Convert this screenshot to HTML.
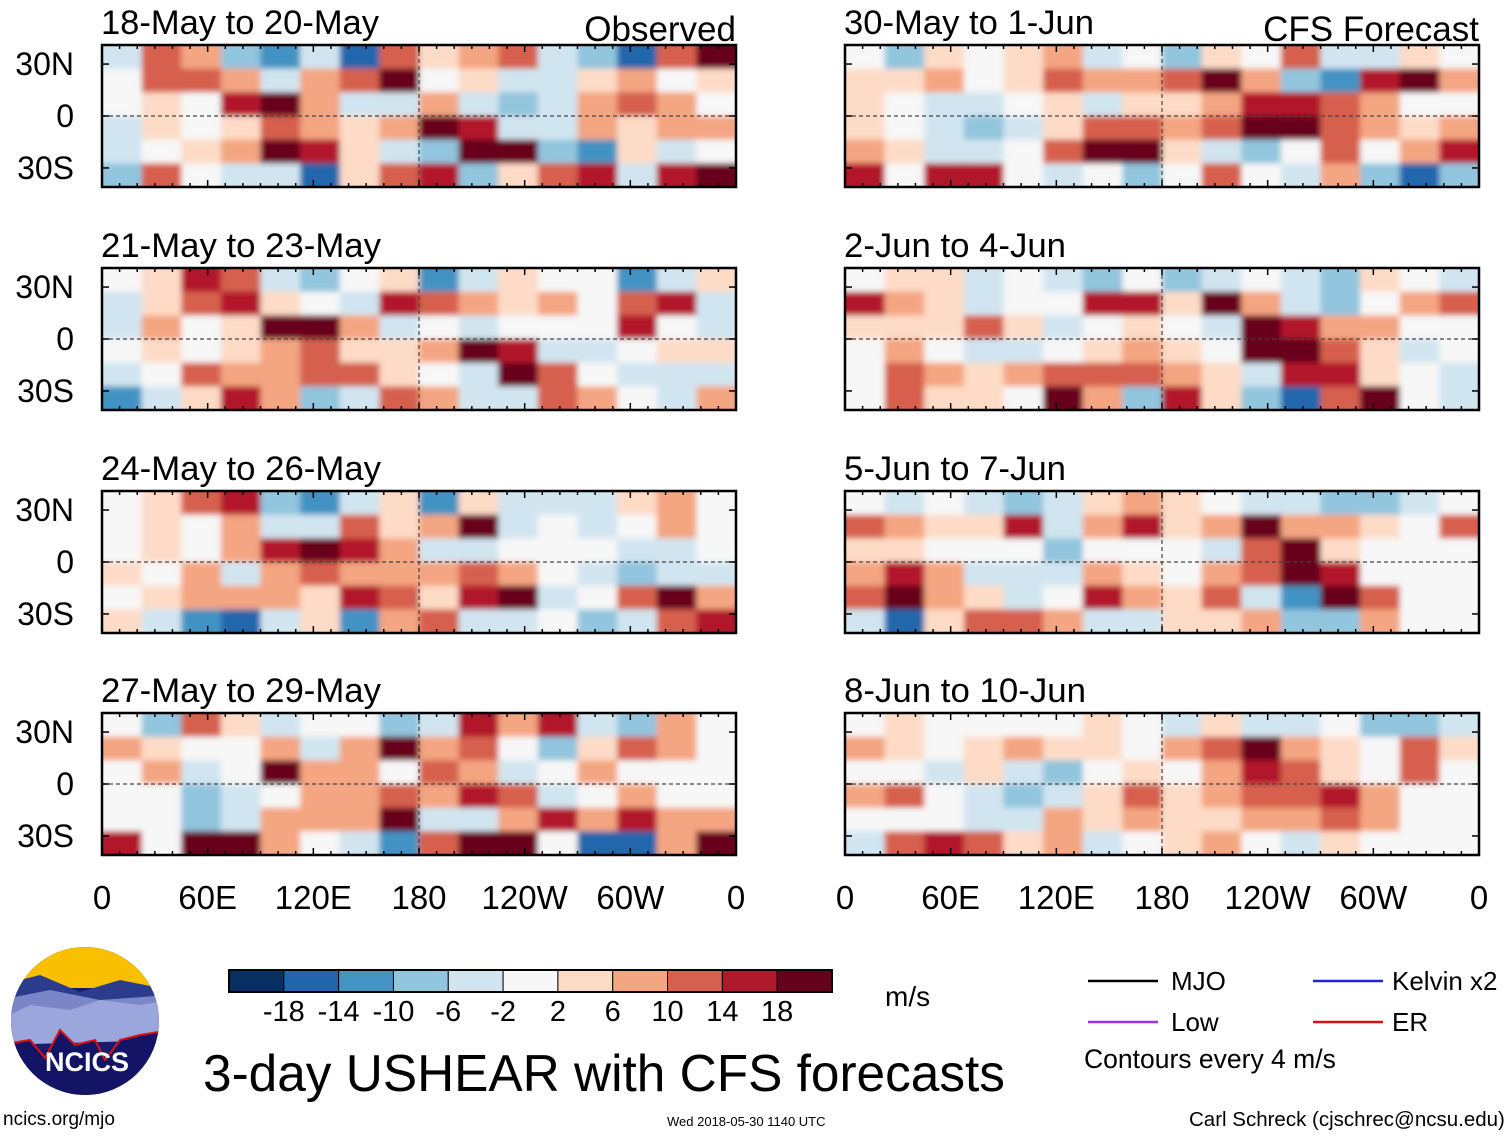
<!DOCTYPE html>
<html><head><meta charset="utf-8">
<style>
html,body{margin:0;padding:0;background:#fff;}
body{width:1510px;height:1137px;position:relative;overflow:hidden;font-family:"Liberation Sans",sans-serif;color:#000;}
.t{position:absolute;white-space:nowrap;line-height:1;}
svg{position:absolute;left:0;top:0;}
</style></head>
<body>
<svg id="chart" width="1510" height="1137">
<defs><filter id="blur" x="-5%" y="-10%" width="110%" height="120%"><feGaussianBlur stdDeviation="3"/></filter></defs>
</svg>

<div class="t" style="left:3px;top:1110px;font-size:19px">ncics.org/mjo</div>
<div class="t" style="left:667px;top:1115px;font-size:13px">Wed 2018-05-30 1140 UTC</div>
<div class="t" style="left:1189px;top:1110px;font-size:20.5px">Carl Schreck (cjschrec@ncsu.edu)</div>
<div class="t" style="left:1171px;top:968px;font-size:26px">MJO</div>
<div class="t" style="left:1392px;top:968px;font-size:26px">Kelvin x2</div>
<div class="t" style="left:1171px;top:1009px;font-size:26px">Low</div>
<div class="t" style="left:1392px;top:1009px;font-size:26px">ER</div>
<div class="t" style="left:1084px;top:1046px;font-size:26.5px">Contours every 4 m/s</div>
<div class="t" style="left:885px;top:983px;font-size:28px">m/s</div>

<script>
// ---------- data ----------
const levels = [-18,-14,-10,-6,-2,2,6,10,14,18];
const colors = ["#053061","#2166ac","#4393c3","#92c5de","#d1e5f0","#f7f7f7","#fddbc7","#f4a582","#d6604d","#b2182b","#67001f"];
const lonTicks = ["0","60E","120E","180","120W","60W","0"];
const latTicks = ["30N","0","30S"];
const obsTitles = ["18-May to 20-May","21-May to 23-May","24-May to 26-May","27-May to 29-May"];
const fcTitles = ["30-May to 1-Jun","2-Jun to 4-Jun","5-Jun to 7-Jun","8-Jun to 10-Jun"];
const obs1 = [
[-4,10,6,-10,-14,-6,-18,10,2,6,10,-6,-10,-18,10,18],
[-2,10,10,6,-6,6,10,18,-2,2,-6,-6,2,6,-2,2],
[-2,2,-2,14,18,6,-6,-4,6,-6,-10,-6,6,10,6,-2],
[-4,2,-2,2,10,6,2,6,18,14,-4,-6,6,2,6,6],
[-4,-2,4,6,18,14,2,-4,-8,18,18,-10,-14,2,-4,-2],
[-10,10,-2,-6,-4,-18,2,10,14,-10,2,10,14,-6,14,18]];
const obs2 = [
[-2,4,14,10,-6,-10,-2,2,-14,-4,2,-2,-2,-14,-4,2],
[-4,2,10,14,4,-2,-4,14,10,6,4,6,-2,10,14,-6],
[-4,6,-2,4,18,20,6,-6,-2,-6,-2,-2,-2,14,-2,-4],
[-2,2,-2,2,6,10,4,2,6,18,14,-6,-4,-2,2,4],
[-4,-2,10,6,6,10,10,4,-2,-6,18,10,-2,-6,-4,-6],
[-14,-4,4,14,6,-10,-6,10,6,-6,-4,10,6,-2,-6,6]];
const obs3 = [
[-2,2,10,14,-10,-14,-6,2,-14,2,-6,-4,-6,2,6,-2],
[-2,2,-2,6,-6,-4,10,2,6,18,-4,-2,-4,-2,6,-2],
[-2,2,-2,6,14,20,14,6,-6,-6,-2,-2,-2,-6,-4,-2],
[2,-2,6,-4,6,10,6,6,6,10,6,-2,-4,-10,-4,-4],
[-2,2,6,6,6,4,14,10,2,14,18,-4,-2,10,18,6],
[2,-4,-14,-18,-4,2,-14,6,10,-6,-6,-2,-10,-6,10,14]];
const obs4 = [
[-2,-10,10,2,-6,-2,-2,-10,-6,14,6,14,-6,-10,6,-2],
[6,2,-2,-2,6,-4,6,18,6,10,-2,-10,2,10,6,-2],
[-2,6,-6,-2,18,6,6,-2,10,6,-4,-2,6,-2,-2,-2],
[-2,-2,-10,-6,-2,6,6,10,6,14,10,-4,-2,6,-2,-2],
[-2,-2,-10,-6,6,6,6,18,-4,-6,6,14,6,14,6,6],
[14,-2,18,18,6,-2,-6,-14,10,18,18,-2,-18,-18,6,18]];
const fc1 = [
[-2,-10,2,-2,2,6,-4,-2,-10,4,-2,10,-6,-4,2,-2],
[4,2,6,-2,4,10,6,6,10,18,6,-10,-14,14,18,6],
[2,-2,-4,-6,-2,4,-4,2,2,6,14,14,10,6,-2,-2],
[2,-2,-6,-10,-6,2,10,10,6,10,18,20,10,6,2,6],
[6,2,-6,-4,-2,10,18,18,4,-4,-10,-2,10,-2,6,14],
[14,-2,14,14,-2,-4,-2,-10,-2,10,-2,-4,6,-10,-18,-10]];
const fc2 = [
[-2,4,2,-4,-2,-4,-10,-2,-10,-4,-2,-6,-10,2,-2,-4],
[14,6,4,-6,-2,-2,14,14,4,18,6,-4,-10,-2,6,10],
[4,2,4,10,2,-4,-2,4,-2,-4,18,14,6,6,-2,-2],
[-2,6,-2,-6,-4,-2,4,6,4,-2,20,20,10,2,-4,-2],
[-2,10,6,4,6,10,10,10,6,2,-4,14,14,4,-2,-4],
[-2,10,4,4,-2,18,6,-10,14,4,-10,-18,10,18,-2,-4]];
const fc3 = [
[-2,-4,-2,-6,-10,-6,2,6,2,-2,-6,-4,-10,-10,-6,-2],
[10,6,2,4,14,-6,6,14,2,6,18,6,6,2,-2,10],
[2,2,-2,-2,-2,-10,-2,-2,-2,-4,10,18,4,-2,-2,-2],
[6,14,6,-4,-4,-6,6,2,-2,6,10,18,14,-2,-2,-2],
[10,18,6,2,-6,-2,14,6,2,10,-6,-14,18,10,-2,-2],
[-6,-18,4,10,10,6,-4,-4,2,2,6,-10,-10,6,-2,-2]];
const fc4 = [
[-2,2,-2,-2,-2,-2,2,-2,-6,2,-4,-6,-2,-10,-10,-4],
[6,2,-2,2,6,2,2,-2,6,10,18,6,2,-2,10,4],
[-2,-2,-4,2,-6,-10,-2,2,-2,6,14,10,2,-2,10,-2],
[6,10,-2,-6,-10,-6,2,10,2,6,10,10,14,6,-2,-2],
[-2,-2,-2,-6,-4,6,4,6,2,4,6,6,10,6,-2,-2],
[-6,10,14,10,2,6,-6,-2,2,6,-2,-6,2,-2,-2,-2]];

// ---------- drawing ----------
const NS="http://www.w3.org/2000/svg";
const svg=document.getElementById('chart');
const defs=svg.querySelector('defs');
function mk(tag,attrs,parent){const e=document.createElementNS(NS,tag);for(const k in attrs)e.setAttribute(k,attrs[k]);(parent||svg).appendChild(e);return e;}
function colorFor(v){let i=0;while(i<levels.length&&v>=levels[i])i++;return colors[i];}
const PW=634, PH=142, LAT_TOP=41, LAT_BOT=-41;
const tops=[45,268,491,713];
function xScale(x0,lon){return x0+lon/360*PW;}
function yScale(y0,lat){return y0+(LAT_TOP-lat)/(LAT_TOP-LAT_BOT)*PH;}
let clipId=0;
function drawPanel(x0,y0,grid,title,side,extra,titleW){
  const g=mk('g',{});
  
  
  const cid='pc'+(clipId++);
  const cp=mk('clipPath',{id:cid},defs);
  mk('rect',{x:x0,y:y0,width:PW,height:PH},cp);
  const outer=mk('g',{'clip-path':'url(#'+cid+')'},g);
  const field=mk('g',{filter:'url(#blur)'},outer);
  const nr=grid.length,nc=grid[0].length;
  for(let r=0;r<nr;r++)for(let c=0;c<nc;c++){
    const lat1=LAT_TOP-r*(LAT_TOP-LAT_BOT)/nr, lat2=LAT_TOP-(r+1)*(LAT_TOP-LAT_BOT)/nr;
    let xa=xScale(x0,c*360/nc), xb=xScale(x0,(c+1)*360/nc);
    let ya=yScale(y0,lat1), yb=yScale(y0,lat2);
    if(c===0)xa-=25; if(c===nc-1)xb+=25; if(r===0)ya-=25; if(r===nr-1)yb+=25;
    const cell=mk('rect',{x:xa,y:ya,width:xb-xa+0.5,height:yb-ya+0.5,fill:colorFor(grid[r][c])},field);
    
    
  }
  mk('line',{x1:x0,x2:x0+PW,y1:yScale(y0,0),y2:yScale(y0,0),stroke:'#444','stroke-width':1.2,'stroke-dasharray':'4,3'},g);
  mk('line',{x1:xScale(x0,180),x2:xScale(x0,180),y1:y0,y2:y0+PH,stroke:'#444','stroke-width':1.2,'stroke-dasharray':'4,3'},g);
  mk('rect',{x:x0,y:y0,width:PW,height:PH,fill:'none',stroke:'#000','stroke-width':2.5},g);
  for(let lon=0;lon<=360;lon+=10){
    const x=xScale(x0,lon), L=lon%60===0?7:4;
    mk('line',{x1:x,x2:x,y1:y0,y2:y0+L,stroke:'#000','stroke-width':1.5},g);
    mk('line',{x1:x,x2:x,y1:y0+PH,y2:y0+PH-L,stroke:'#000','stroke-width':1.5},g);
  }
  [30,0,-30].forEach((lat,i)=>{
    const y=yScale(y0,lat);
    mk('line',{x1:x0,x2:x0+7,y1:y,y2:y,stroke:'#000','stroke-width':1.5},g);
    mk('line',{x1:x0+PW,x2:x0+PW-7,y1:y,y2:y,stroke:'#000','stroke-width':1.5},g);
    if(side==='left'){
      const t=mk('text',{x:74,y:y+11,'text-anchor':'end','font-size':32,'font-family':'Liberation Sans'},g);
      t.textContent=latTicks[i];
      
      
    }
  });
  const tt=mk('text',{x:x0-1,y:y0-11,'font-size':34,'font-family':'Liberation Sans',textLength:titleW,lengthAdjust:'spacingAndGlyphs'},g);
  tt.textContent=title;
  
  
  if(extra){
    const et=mk('text',{x:x0+PW,y:y0-4,'text-anchor':'end','font-size':35,'font-family':'Liberation Sans'},g);
    et.textContent=extra;
    
    
  }
}
const obsGrids=[obs1,obs2,obs3,obs4], fcGrids=[fc1,fc2,fc3,fc4];
const obsW=[278,280,280,280], fcW=[250,222,222,242];
tops.forEach((y,i)=>{
  drawPanel(102,y,obsGrids[i],obsTitles[i],'left',i===0?'Observed':null,obsW[i]);
  drawPanel(845,y,fcGrids[i],fcTitles[i],'right',i===0?'CFS Forecast':null,fcW[i]);
});
[102,845].forEach(x0=>{
  lonTicks.forEach((lab,i)=>{
    const t=mk('text',{x:xScale(x0,i*60),y:909,'text-anchor':'middle','font-size':33,'font-family':'Liberation Sans'});
    t.textContent=lab;
    
    
  });
});

// colorbar
const cbX=229, cbW=603, cbY=970, cbH=22, bw=cbW/colors.length;
colors.forEach((c,i)=>{
  const r=mk('rect',{x:cbX+i*bw,y:cbY,width:bw,height:cbH,fill:c,stroke:'#000','stroke-width':1});
  
  
});
mk('rect',{x:cbX,y:cbY,width:cbW,height:cbH,fill:'none',stroke:'#000','stroke-width':2});
levels.forEach((v,i)=>{
  const t=mk('text',{x:cbX+(i+1)*bw,y:1021,'text-anchor':'middle','font-size':29,'font-family':'Liberation Sans'});
  t.textContent=String(v);
  
  
});

// main title
const mt=mk('text',{x:203,y:1091,'font-size':52,'font-family':'Liberation Sans',textLength:802,lengthAdjust:'spacingAndGlyphs'});
mt.textContent='3-day USHEAR with CFS forecasts';



// legend lines
[[1088,981,'#000'],[1313,981,'#2222dd'],[1088,1022,'#9933ee'],[1313,1022,'#dd1111']].forEach(d=>{
  const l=mk('line',{x1:d[0],x2:d[0]+70,y1:d[1],y2:d[1],stroke:d[2],'stroke-width':2.5});
  
  
});

// logo
const logo=mk('g',{});


const lcp=mk('clipPath',{id:'lc'},defs);
mk('ellipse',{cx:85,cy:1021,rx:74,ry:74},lcp);
const lg=mk('g',{'clip-path':'url(#lc)'},logo);
mk('rect',{x:0,y:940,width:170,height:160,fill:'#1a1a6e'},lg);
mk('rect',{x:0,y:940,width:170,height:48,fill:'#f8c000'},lg);
mk('path',{d:'M0 985 L40 975 L80 992 L120 980 L170 990 L170 1010 L0 1015Z',fill:'#2c3c8c'},lg);
mk('path',{d:'M0 1000 L50 990 L100 1000 L170 995 L170 1030 L0 1035Z',fill:'#7a86c8'},lg);
mk('path',{d:'M0 1020 L30 1005 L70 1010 L100 1000 L140 1005 L170 1000 L170 1040 L0 1045Z',fill:'#9aa6dc'},lg);
mk('path',{d:'M0 1045 L30 1040 L45 1058 L60 1030 L75 1045 L95 1040 L105 1060 L120 1040 L140 1035 L170 1030 L170 1100 L0 1100Z',fill:'#141466',stroke:'#dd1111','stroke-width':2},lg);
const lt=mk('text',{x:87,y:1071,'text-anchor':'middle','font-size':27,'font-weight':'bold',fill:'#fff','font-family':'Liberation Sans'},logo);
lt.textContent='NCICS';
</script>
</body></html>
